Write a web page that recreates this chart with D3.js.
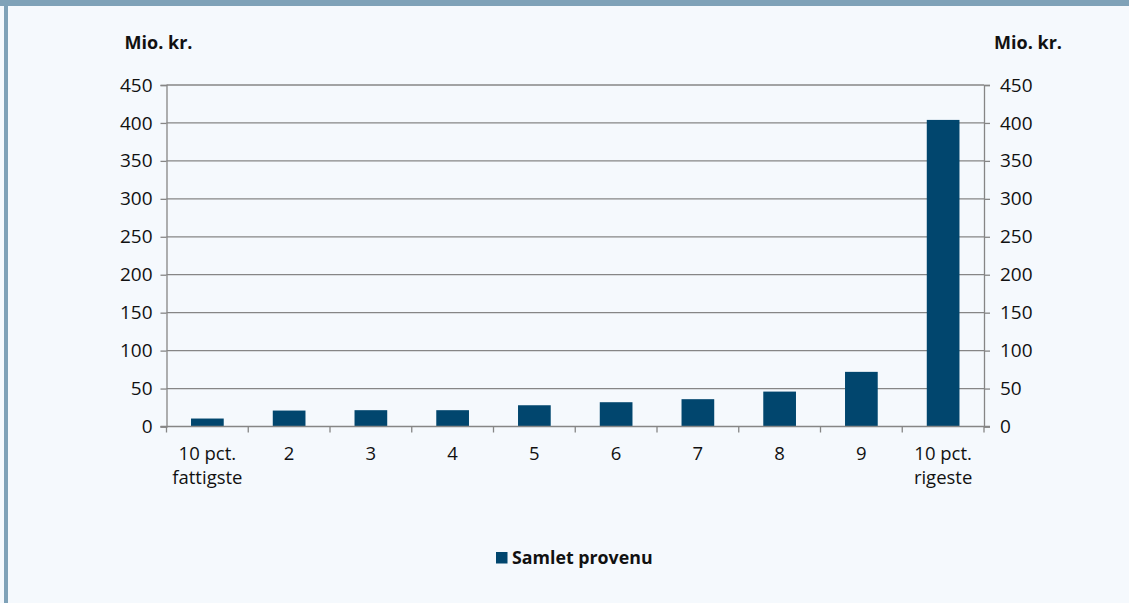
<!DOCTYPE html>
<html>
<head>
<meta charset="utf-8">
<script src="https://cdn.jsdelivr.net/npm/d3@7"></script>
<style>
  html, body { margin: 0; padding: 0; background: #f5f9fd; }
  svg { display: block; }
  text { font-family: "Open Sans", "Noto Sans", sans-serif; fill: #111; }
</style>
</head>
<body>
<svg id="chart" width="1129" height="603"></svg>
<script>
const categories = ["10 pct.|fattigste", "2", "3", "4", "5", "6", "7", "8", "9", "10 pct.|rigeste"];
const values = [10.5, 21, 21.5, 21.5, 28, 32, 36, 46, 72, 404];
const yTicks = [0, 50, 100, 150, 200, 250, 300, 350, 400, 450];
const seriesName = "Samlet provenu";
const unitLabel = "Mio. kr.";

const W = 1129, H = 603;
const margin = { left: 166.5 };
const svg = d3.select("#chart");

// frame
svg.append("rect").attr("x", 0).attr("y", 0).attr("width", W).attr("height", H).attr("fill", "#f5f9fd");
svg.append("rect").attr("x", 0).attr("y", 0).attr("width", W).attr("height", 6).attr("fill", "#7fa2b8");
svg.append("rect").attr("x", 4).attr("y", 0).attr("width", 4).attr("height", H).attr("fill", "#7fa2b8");

const x = d3.scaleBand().domain(categories).range([margin.left, 984]).paddingInner(0.6).paddingOuter(0.3);
const y = d3.scaleLinear().domain([0, 450]).range([426.5, 85]);
const axisColor = "#868686";

// gridlines
svg.append("g").selectAll("line").data(yTicks.filter(d => d > 0)).join("line")
  .attr("x1", margin.left).attr("x2", 984)
  .attr("y1", d => y(d)).attr("y2", d => y(d))
  .attr("stroke", axisColor).attr("stroke-width", 1.3);

// bars
svg.append("g").selectAll("rect").data(values).join("rect")
  .attr("x", (d, i) => x(categories[i]))
  .attr("width", x.bandwidth())
  .attr("y", d => y(d))
  .attr("height", d => y(0) - y(d))
  .attr("fill", "#01466e");

// left axis
const leftAxis = svg.append("g").attr("transform", `translate(${margin.left},0)`)
  .call(d3.axisLeft(y).tickValues(yTicks).tickSize(6).tickPadding(8));
// right axis
const rightAxis = svg.append("g").attr("transform", `translate(984,0)`)
  .call(d3.axisRight(y).tickValues(yTicks).tickSize(6).tickPadding(10));
[leftAxis, rightAxis].forEach(g => {
  g.select(".domain").attr("stroke", axisColor).attr("stroke-width", 1.3);
  g.selectAll(".tick line").attr("stroke", axisColor).attr("stroke-width", 1.3);
  g.selectAll(".tick text").attr("font-size", 19).attr("fill", "#111")
    .attr("font-family", '"Open Sans", sans-serif');
});

// x axis
const xg = svg.append("g").attr("transform", `translate(0,${y(0)})`);
xg.append("line").attr("x1", margin.left - 6).attr("x2", 984 + 6)
  .attr("stroke", axisColor).attr("stroke-width", 1.3);
const step = x.step();
const bounds = d3.range(categories.length + 1).map(i => margin.left + i * step);
xg.selectAll("line.tk").data(bounds).join("line").attr("class", "tk")
  .attr("x1", d => d).attr("x2", d => d).attr("y1", 0).attr("y2", 6)
  .attr("stroke", axisColor).attr("stroke-width", 1.3);
// one text element per label line
const lines = [];
categories.forEach(c => c.split("|").forEach((p, i) => lines.push({ c, p, i })));
xg.selectAll("text.lbl").data(lines).join("text").attr("class", "lbl")
  .attr("text-anchor", "middle").attr("font-size", 18.5)
  .attr("x", d => x(d.c) + x.bandwidth() / 2)
  .attr("y", d => 33 + d.i * 24)
  .text(d => d.p);

// unit labels
svg.append("text").attr("x", 158.5).attr("y", 49).attr("text-anchor", "middle")
  .attr("font-size", 18).attr("font-weight", "bold").text(unitLabel);
svg.append("text").attr("x", 1028).attr("y", 49).attr("text-anchor", "middle")
  .attr("font-size", 18).attr("font-weight", "bold").text(unitLabel);

// legend
svg.append("rect").attr("x", 496).attr("y", 552).attr("width", 11.5).attr("height", 11.5).attr("fill", "#01466e");
svg.append("text").attr("x", 512).attr("y", 564).attr("font-size", 17.8).attr("font-weight", "bold").text(seriesName);
</script>
</body>
</html>
